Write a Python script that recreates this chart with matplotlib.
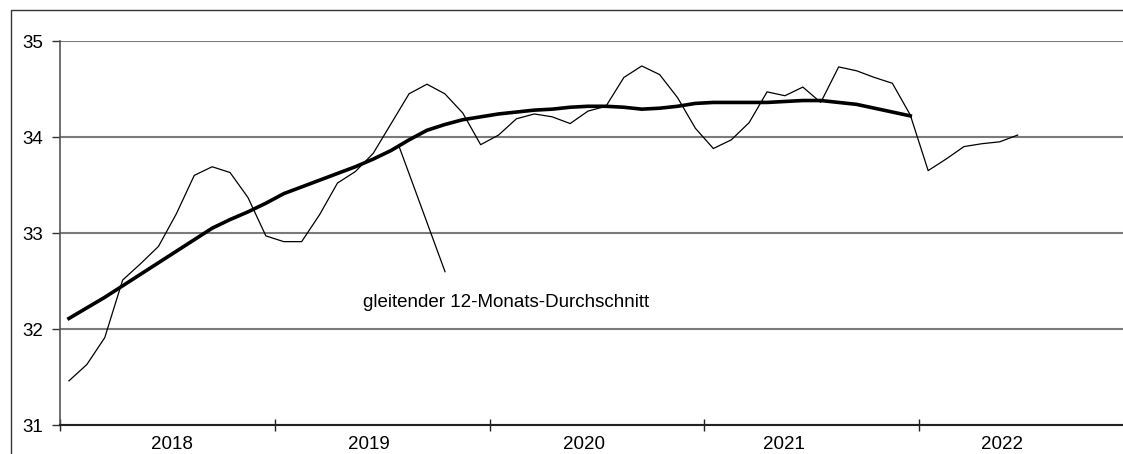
import matplotlib
matplotlib.use("Agg")
import matplotlib.pyplot as plt
from matplotlib.patches import Rectangle
import numpy as np

plt.rcParams["font.family"] = ["Liberation Sans", "DejaVu Sans"]

# monthly values from Jan 2018
monthly = [
    31.46, 31.63, 31.91, 32.51, 32.68, 32.86, 33.20, 33.60, 33.69, 33.63, 33.37, 32.97,
    32.91, 32.91, 33.19, 33.52, 33.64, 33.83, 34.14, 34.45, 34.55, 34.45, 34.25, 33.92,
    34.02, 34.19, 34.24, 34.21, 34.14, 34.27, 34.32, 34.62, 34.74, 34.65, 34.41, 34.09,
    33.88, 33.97, 34.15, 34.47, 34.43, 34.52, 34.36, 34.73, 34.69, 34.62, 34.56, 34.23,
    33.65, 33.77, 33.90, 33.93, 33.95, 34.02,
]
# gleitender 12-Monats-Durchschnitt
moving_avg = [
    32.11, 32.22, 32.33, 32.45, 32.57, 32.69, 32.81, 32.93, 33.05, 33.14, 33.22, 33.31,
    33.41, 33.48, 33.55, 33.62, 33.69, 33.77, 33.86, 33.97, 34.07, 34.13, 34.18, 34.21,
    34.24, 34.26, 34.28, 34.29, 34.31, 34.32, 34.32, 34.31, 34.29, 34.30, 34.32, 34.35,
    34.36, 34.36, 34.36, 34.36, 34.37, 34.38, 34.38, 34.36, 34.34, 34.30, 34.26, 34.22,
]
years = ["2018", "2019", "2020", "2021", "2022"]
yticks = [31, 32, 33, 34, 35]
label = "gleitender 12-Monats-Durchschnitt"

W, H = 1123, 454
fig = plt.figure(figsize=(W / 100, H / 100), dpi=100)
# axes runs past the right edge like the original crop
ax = fig.add_axes([60 / W, (H - 425) / H, 1074 / W, 384 / H])

x_m = np.arange(len(monthly)) + 0.5
x_a = np.arange(len(moving_avg)) + 0.5
ax.plot(x_m, monthly, color="black", lw=0.9, zorder=3)
ax.plot(x_a, moving_avg, color="black", lw=2.6, zorder=4)

ax.set_xlim(0, 12 * len(years))
ax.set_ylim(31, 35)
ax.set_yticks(yticks)
ax.yaxis.grid(True, color="#7a7a7a", lw=1.5)
ax.set_axisbelow(True)

for s in ("top", "right"):
    ax.spines[s].set_visible(False)
ax.spines["left"].set_color("#555555")
ax.spines["left"].set_linewidth(1.2)
ax.spines["bottom"].set_color("#222222")
ax.spines["bottom"].set_linewidth(1.5)

ax.tick_params(axis="y", length=6, width=1, color="#333333", pad=6, labelsize=13.5)

# year separators as major ticks, labels on minor ticks
ax.set_xticks(np.arange(0, 12 * len(years) + 1, 12))
ax.set_xticklabels([])
ax.tick_params(axis="x", which="major", direction="inout", length=9, width=1, color="#222222")
label_pos = [6.25, 17.25, 29.25, 40.45, 52.6]
ax.set_xticks(label_pos, minor=True)
ax.set_xticklabels(years, minor=True)
ax.tick_params(axis="x", which="minor", length=0, pad=8, labelsize=13.5)

ax.plot([18.96, 21.51], [33.893, 32.597], color="black", lw=0.9, zorder=5)
ax.text(16.93, 32.28, label, fontsize=13.5, ha="left", va="center")

fig.patches.append(Rectangle((11 / W, -0.1), 2, 1.1 - 10 / H, transform=fig.transFigure,
                             fill=False, ec="#333333", lw=1.0))

fig.savefig("out.png", dpi=100)
